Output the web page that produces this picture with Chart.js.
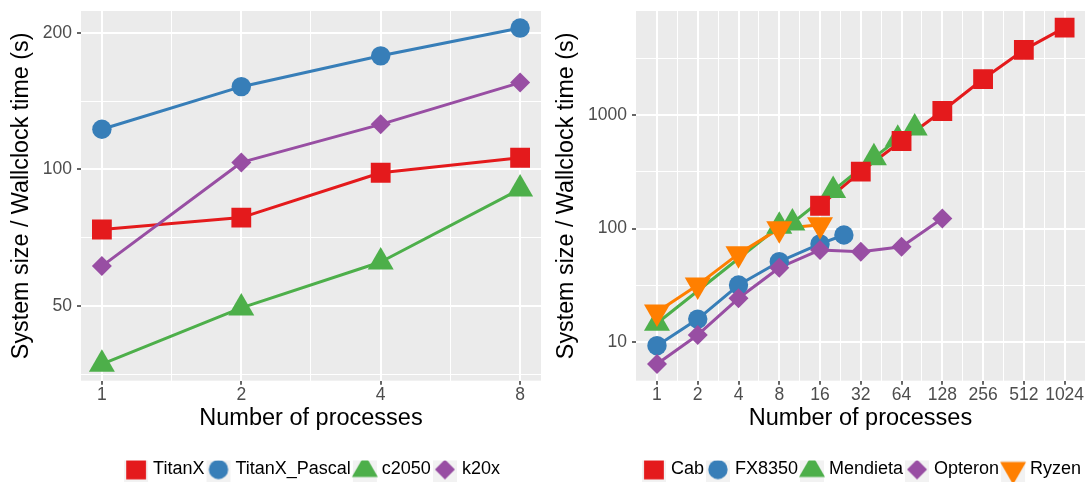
<!DOCTYPE html>
<html>
<head>
<meta charset="utf-8">
<script src="https://cdn.jsdelivr.net/npm/chart.js@4/dist/chart.umd.min.js"></script>
<style>
html,body{margin:0;padding:0;background:#ffffff;}
#wrap{position:relative;width:1088px;height:482px;overflow:hidden;}
#c1{position:absolute;left:0;top:0;width:545px;height:482px;}
#c2{position:absolute;left:545px;top:0;width:543px;height:482px;}
</style>
</head>
<body>
<div id="wrap">
<canvas id="c1" width="545" height="482"></canvas>
<canvas id="c2" width="543" height="482"></canvas>
</div>
<script>
// ---------------- data: left panel (GPUs) ----------------
const gpuProcs = [1, 2, 4, 8];
const titanX       = [73.7, 78.3, 98.3, 106.1];
const titanXPascal = [122.6, 152.2, 178, 205];
const c2050        = [37.2, 49.5, 62.5, 90.5];
const k20x         = [61.2, 103.6, 125.7, 155.4];

// ---------------- data: right panel (CPUs) ----------------
const cabProcs      = [16, 32, 64, 128, 256, 512, 1024];
const cab           = [159, 317, 590, 1084, 2070, 3733, 5866];
const fx8350Procs   = [1, 2, 4, 8, 16, 24];
const fx8350        = [9.33, 16.0, 31.9, 51.2, 73.3, 87.9];
const mendietaProcs = [1, 8, 10, 20, 40, 60, 80];
const mendieta      = [14.7, 105, 112, 216, 421, 611, 768];
const opteronProcs  = [1, 2, 4, 8, 16, 32, 64, 128];
const opteron       = [6.44, 11.6, 24.4, 45.3, 64.9, 62.7, 69.3, 123];
const ryzenProcs    = [1, 2, 4, 8, 16];
const ryzen         = [18.5, 32, 60, 100, 108];

// ---------------- tick labels / breaks ----------------
const leftXMajor  = [1, 2, 4, 8];
const leftXMinor  = [1.414, 2.828, 5.657];
const leftYMajor  = [50, 100, 200];
const leftYMinor  = [35.36, 70.71, 141.42];
const rightXMajor = [1, 2, 4, 8, 16, 32, 64, 128, 256, 512, 1024];
const rightXMinor = [1.414, 2.828, 5.657, 11.31, 22.63, 45.25, 90.51, 181.0, 362.0, 724.1];
const rightYMajor = [10, 100, 1000];
const rightYMinor = [31.62, 316.2, 3162];

const xTitle = 'Number of processes';
const yTitle = 'System size / Wallclock time (s)';

// ---------------- styles ----------------
const FONT = "'Liberation Sans', Arial, Helvetica, sans-serif";
const RED = '#E41A1C', BLUE = '#377EB8', GREEN = '#4DAF4A', PURPLE = '#984EA3', ORANGE = '#FF7F00';
const SHAPES = {
  square:   {style: 'rect',     r: 14,  rot: 0},
  circle:   {style: 'circle',   r: 9.7, rot: 0},
  triangle: {style: 'triangle', r: 15,  rot: 0},
  diamond:  {style: 'rectRot',  r: 10,  rot: 0},
  down:     {style: 'triangle', r: 15,  rot: 180}
};

function drawShape(g, shape, x, y) {
  const s = SHAPES[shape], r = s.r;
  g.beginPath();
  if (s.style === 'rect') {
    const h = r * Math.SQRT1_2; g.rect(x - h, y - h, 2 * h, 2 * h);
  } else if (s.style === 'circle') {
    g.arc(x, y, r, 0, Math.PI * 2);
  } else if (s.style === 'triangle') {
    const d = s.rot === 180 ? -1 : 1;
    g.moveTo(x, y - d * r);
    g.lineTo(x + r * 0.8660254, y + d * r * 0.5);
    g.lineTo(x - r * 0.8660254, y + d * r * 0.5);
    g.closePath();
  } else if (s.style === 'rectRot') {
    g.moveTo(x - r, y); g.lineTo(x, y - r); g.lineTo(x + r, y); g.lineTo(x, y + r); g.closePath();
  }
  g.fill();
}
// legend key: grey key box with the marker, offset to the right inside a symmetric image
function makeIcon(shape, color) {
  const c = document.createElement('canvas');
  c.width = 36; c.height = 30;
  const g = c.getContext('2d');
  g.fillStyle = '#F2F2F2';
  g.fillRect(9, 2, 24, 26);
  g.fillStyle = color;
  drawShape(g, shape, 21, 15);
  return c;
}

const leftSeries = [
  {name: 'TitanX',        x: gpuProcs, y: titanX,       color: RED,    shape: 'square'},
  {name: 'TitanX_Pascal', x: gpuProcs, y: titanXPascal, color: BLUE,   shape: 'circle'},
  {name: 'c2050',         x: gpuProcs, y: c2050,        color: GREEN,  shape: 'triangle'},
  {name: 'k20x',          x: gpuProcs, y: k20x,         color: PURPLE, shape: 'diamond'}
];
const leftPointOrder = ['TitanX', 'TitanX_Pascal', 'c2050', 'k20x'];

const rightSeries = [
  {name: 'Cab',      x: cabProcs,      y: cab,      color: RED,    shape: 'square'},
  {name: 'FX8350',   x: fx8350Procs,   y: fx8350,   color: BLUE,   shape: 'circle'},
  {name: 'Mendieta', x: mendietaProcs, y: mendieta, color: GREEN,  shape: 'triangle'},
  {name: 'Opteron',  x: opteronProcs,  y: opteron,  color: PURPLE, shape: 'diamond'},
  {name: 'Ryzen',    x: ryzenProcs,    y: ryzen,    color: ORANGE, shape: 'down'}
];
const rightPointOrder = ['Mendieta', 'Cab', 'FX8350', 'Opteron', 'Ryzen'];

function buildDatasets(series, pointOrder) {
  const lines = series.map((s, i) => ({
    label: s.name,
    data: s.x.map((v, j) => ({x: v, y: s.y[j]})),
    borderColor: s.color, backgroundColor: s.color,
    borderWidth: 3, borderJoinStyle: 'round', borderCapStyle: 'butt',
    pointRadius: 0, pointHoverRadius: 0, showLine: true, tension: 0,
    order: 100 - i
  }));
  const points = series.map((s) => {
    const sh = SHAPES[s.shape];
    return {
      label: s.name,
      data: s.x.map((v, j) => ({x: v, y: s.y[j]})),
      showLine: false,
      pointStyle: sh.style, pointRadius: sh.r, pointHoverRadius: sh.r, pointRotation: sh.rot,
      pointBackgroundColor: s.color, pointBorderColor: s.color, pointBorderWidth: 0,
      borderColor: s.color, backgroundColor: s.color,
      order: 50 - pointOrder.indexOf(s.name)
    };
  });
  return lines.concat(points);
}

function logAxis(o) {
  return {
    type: 'logarithmic',
    min: o.min, max: o.max,
    afterBuildTicks(axis) {
      const t = o.major.map(v => ({value: v, isMinor: false}))
        .concat(o.minor.map(v => ({value: v, isMinor: true})));
      t.sort((a, b) => a.value - b.value);
      axis.ticks = t;
    },
    afterFit(axis) {
      if (o.isX) axis.height = o.size; else axis.width = o.size;
      axis.paddingTop = 0; axis.paddingBottom = 0;
      axis.paddingLeft = 0; axis.paddingRight = 0;
    },
    ticks: {
      autoSkip: false, maxRotation: 0, minRotation: 0,
      padding: o.isX ? 0 : 5,
      color: '#4D4D4D',
      font: {family: FONT, size: 17.5},
      callback(v, i, ticks) { return ticks[i] && ticks[i].isMinor ? '' : String(v); }
    },
    grid: {
      color: '#FFFFFF',
      lineWidth: c => (c.tick && c.tick.isMinor) ? 1 : 2,
      drawTicks: true, tickLength: 4,
      tickColor: c => (c.tick && c.tick.isMinor) ? 'rgba(0,0,0,0)' : '#333333',
      tickWidth: 1.5
    },
    border: {display: false},
    title: {
      display: true, text: o.title, color: '#000000',
      font: {family: FONT, size: o.titleSize},
      padding: o.titlePad
    }
  };
}

const panelBg = {
  id: 'panelBg',
  beforeDraw(chart) {
    const {ctx, chartArea: a} = chart;
    ctx.save();
    ctx.fillStyle = '#EBEBEB';
    ctx.fillRect(a.left, a.top, a.right - a.left, a.bottom - a.top);
    ctx.restore();
  }
};

function legendOpts(series) {
  const icons = series.map(s => makeIcon(s.shape, s.color));
  return {
    display: true, position: 'bottom', align: 'center', fullSize: false,
    labels: {
      usePointStyle: true, pointStyleWidth: 22, boxHeight: 18, padding: 0,
      color: '#000000', font: {family: FONT, size: 18},
      generateLabels: () => series.map((s, i) => ({
        text: s.name, pointStyle: icons[i], rotation: 0,
        fillStyle: s.color, strokeStyle: s.color, lineWidth: 0,
        hidden: false, fontColor: '#000000', datasetIndex: i
      }))
    }
  };
}

function makeChart(id, series, pointOrder, xo, yo, padRight) {
  return new Chart(document.getElementById(id), {
    type: 'line',
    data: {datasets: buildDatasets(series, pointOrder)},
    options: {
      responsive: false, animation: false, events: [],
      layout: {autoPadding: false, padding: {top: 11, right: padRight, bottom: -6.5, left: 0}},
      scales: {
        x: logAxis(Object.assign({isX: true, size: 79.8, title: xTitle, titleSize: 23.5, titlePad: {top: 0, bottom: 27.5}}, xo)),
        y: logAxis(Object.assign({isX: false, title: yTitle, titleSize: 23.3, titlePad: {top: 8, bottom: 0}}, yo))
      },
      plugins: {
        legend: legendOpts(series),
        tooltip: {enabled: false}
      }
    },
    plugins: [panelBg]
  });
}

makeChart('c1', leftSeries, leftPointOrder,
  {min: 0.9013, max: 8.876, major: leftXMajor, minor: leftXMinor},
  {min: 34.2, max: 223.5, major: leftYMajor, minor: leftYMinor, size: 81}, 4);

makeChart('c2', rightSeries, rightPointOrder,
  {min: 0.7071, max: 1448.2, major: rightXMajor, minor: rightXMinor},
  {min: 4.594, max: 8215, major: rightYMajor, minor: rightYMinor, size: 91}, 3);
</script>
</body>
</html>
